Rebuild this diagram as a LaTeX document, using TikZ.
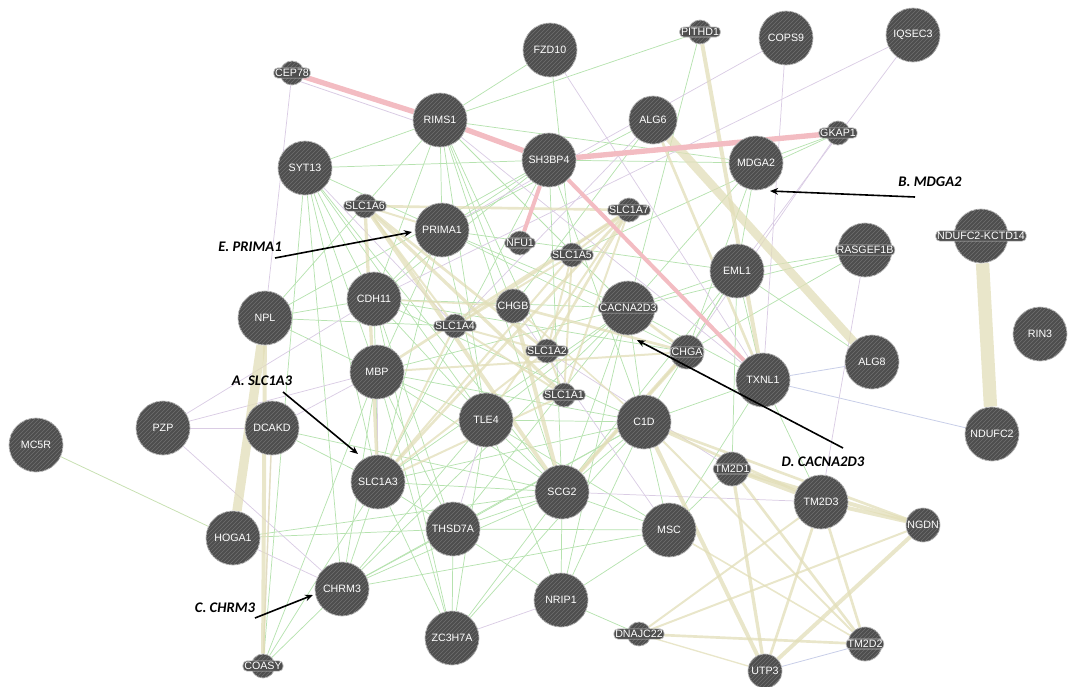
\documentclass[tikz,border=0pt]{standalone}
\usepackage{fontspec}
\setmainfont{Liberation Sans}
\newfontfamily\annfont{Carlito}
\usetikzlibrary{patterns,arrows.meta}
\pgfdeclarelayer{bg}
\pgfsetlayers{bg,main}
\definecolor{grn}{RGB}{182,226,175}
\definecolor{pur}{RGB}{218,204,228}
\definecolor{kha}{RGB}{226,222,184}
\definecolor{pnk}{RGB}{243,188,194}
\definecolor{blu}{RGB}{200,206,232}
\definecolor{nodegray}{RGB}{78,78,78}
\definecolor{stripe}{RGB}{112,112,112}
\definecolor{rim}{RGB}{190,190,190}
\tikzset{
  gene/.style={circle, fill=nodegray, draw=rim, line width=0.6pt, inner sep=0pt,
    text=white, font=\fontsize{8}{9}\selectfont,
    postaction={pattern=north east lines, pattern color=stripe}},
  big/.style={gene, minimum size=40.5pt},
  mid/.style={gene, minimum size=25.5pt},
  sml/.style={gene, minimum size=18pt},
  halo/.style={fill=nodegray, draw=rim, line width=0.5pt, rounded corners=3pt,
    inner sep=1pt, text=white, font=\fontsize{8}{9}\selectfont},
  gr/.style={draw=grn, line width=0.55pt},
  pu/.style={draw=pur, line width=0.55pt},
  bl/.style={draw=blu, line width=0.6pt},
  kh/.style={draw=kha, line width=#1, opacity=0.75},
  kh/.default=1.5pt,
  pk/.style={draw=pnk, line width=#1},
  pk/.default=3pt,
  ann/.style={font=\annfont\bfseries\itshape\fontsize{11}{13}\selectfont, text=black},
  pointer/.style={-{Stealth[length=6pt,width=5pt]}, line width=1.2pt, black}
}
\begin{document}
\begin{tikzpicture}[x=0.75pt,y=-0.75pt]
\path[use as bounding box] (0,0) rectangle (1071,686);
% nodes
\node[sml, label={[halo]center:CEP78}] (cep78) at (292,73) {};
\node[big] (fzd10) at (550,50) {FZD10};
\node[sml, label={[halo]center:PITHD1}] (pithd1) at (700,32) {};
\node[big] (cops9) at (786,38) {COPS9};
\node[big] (iqsec3) at (913,35) {IQSEC3};
\node[big] (rims1) at (440,120) {RIMS1};
\node[big, minimum size=36pt] (alg6) at (653,120) {ALG6};
\node[sml, label={[halo]center:GKAP1}] (gkap1) at (838,133) {};
\node[big] (sh3bp4) at (549,160) {SH3BP4};
\node[big] (mdga2) at (756,163) {MDGA2};
\node[big] (syt13) at (305,168) {SYT13};
\node[sml, label={[halo]center:SLC1A6}] (slc1a6) at (365,206) {};
\node[big] (prima1) at (442,230) {PRIMA1};
\node[sml, label={[halo]center:NFU1}] (nfu1) at (520,243) {};
\node[sml, label={[halo]center:SLC1A7}] (slc1a7) at (629,210) {};
\node[sml, label={[halo]center:SLC1A5}] (slc1a5) at (572,255) {};
\node[big] (eml1) at (737,271) {EML1};
\node[big, label={[halo]center:RASGEF1B}] (rasgef1b) at (865,250) {};
\node[big, label={[halo]center:NDUFC2-KCTD14}] (ndufkc) at (981,236) {};
\node[big] (cdh11) at (374,299) {CDH11};
\node[big] (npl) at (265,318) {NPL};
\node[mid] (chgb) at (513,306) {CHGB};
\node[sml, label={[halo]center:SLC1A4}] (slc1a4) at (455,326) {};
\node[big, label={[halo]center:CACNA2D3}] (cacna2d3) at (628,308) {};
\node[sml, label={[halo]center:SLC1A2}] (slc1a2) at (547,351) {};
\node[mid, label={[halo]center:CHGA}] (chga) at (687,352) {};
\node[big] (txnl1) at (763,380) {TXNL1};
\node[big] (alg8) at (872,362) {ALG8};
\node[big] (rin3) at (1040,334) {RIN3};
\node[big] (mbp) at (377,372) {MBP};
\node[sml, label={[halo]center:SLC1A1}] (slc1a1) at (564,395) {};
\node[big] (pzp) at (163,428) {PZP};
\node[big] (dcakd) at (272,428) {DCAKD};
\node[big] (mc5r) at (36,445) {MC5R};
\node[big] (tle4) at (486,420) {TLE4};
\node[big] (c1d) at (644,422) {C1D};
\node[big] (slc1a3) at (378,482) {SLC1A3};
\node[big] (ndufc2) at (992,434) {NDUFC2};
\node[mid, label={[halo]center:TM2D1}] (tm2d1) at (732,469) {};
\node[big] (scg2) at (562,492) {SCG2};
\node[big] (tm2d3) at (821,502) {TM2D3};
\node[mid] (ngdn) at (923,525) {NGDN};
\node[big] (hoga1) at (233,538) {HOGA1};
\node[big] (thsd7a) at (453,529) {THSD7A};
\node[big] (msc) at (669,530) {MSC};
\node[big] (chrm3) at (342,589) {CHRM3};
\node[big] (nrip1) at (561,600) {NRIP1};
\node[big] (zc3h7a) at (452,638) {ZC3H7A};
\node[sml, label={[halo]center:DNAJC22}] (dnajc22) at (639,634) {};
\node[mid, label={[halo]center:TM2D2}] (tm2d2) at (865,644) {};
\node[mid] (utp3) at (765,671) {UTP3};
\node[sml, label={[halo]center:COASY}] (coasy) at (263,666) {};
% edges
\begin{pgfonlayer}{bg}
\foreach \a/\b in {syt13/rims1, syt13/sh3bp4, syt13/prima1, syt13/cdh11, syt13/slc1a3, syt13/chrm3, syt13/scg2, syt13/tle4, syt13/mbp,
  rims1/prima1, rims1/cdh11, rims1/chgb, rims1/slc1a2, rims1/cacna2d3, rims1/tle4, rims1/mdga2, rims1/scg2, pithd1/rims1, fzd10/rims1,
  sh3bp4/prima1, sh3bp4/cdh11, sh3bp4/slc1a3, sh3bp4/scg2, sh3bp4/c1d, sh3bp4/mdga2,
  prima1/cdh11, prima1/mbp, prima1/cacna2d3, prima1/eml1, prima1/chga, prima1/tle4, prima1/slc1a3,
  cdh11/cacna2d3, cdh11/chga, cdh11/tle4, cdh11/slc1a3, cdh11/thsd7a, cdh11/npl, cdh11/c1d,
  npl/mbp, npl/rims1, npl/sh3bp4, npl/slc1a4,
  mbp/cacna2d3, mbp/tle4, mbp/scg2, mbp/thsd7a, mbp/chrm3, mbp/c1d,
  slc1a3/thsd7a, slc1a3/scg2, slc1a3/c1d, slc1a3/chrm3, slc1a3/zc3h7a, slc1a3/cacna2d3,
  chrm3/tle4, chrm3/scg2, chrm3/thsd7a, chrm3/c1d, chrm3/cacna2d3, chrm3/coasy, chrm3/msc,
  thsd7a/zc3h7a, thsd7a/scg2, thsd7a/c1d, thsd7a/nrip1, thsd7a/msc, thsd7a/cacna2d3,
  zc3h7a/tle4, zc3h7a/scg2, zc3h7a/mbp, zc3h7a/cdh11, zc3h7a/c1d,
  tle4/scg2, tle4/c1d, tle4/cacna2d3, tle4/msc, tle4/nrip1,
  scg2/c1d, scg2/msc, scg2/nrip1, scg2/cacna2d3, scg2/eml1,
  nrip1/msc, nrip1/dnajc22, nrip1/c1d, nrip1/cacna2d3,
  c1d/cacna2d3, c1d/eml1, c1d/txnl1, c1d/msc, msc/tm2d1, msc/txnl1,
  cacna2d3/eml1, cacna2d3/txnl1, cacna2d3/rasgef1b, cacna2d3/mdga2,
  eml1/txnl1, eml1/rasgef1b, eml1/chga, eml1/alg8, mdga2/eml1, mdga2/chga,
  pithd1/cacna2d3, fzd10/slc1a5, gkap1/slc1a5, gkap1/mdga2, alg6/prima1, alg6/chgb,
  dcakd/slc1a3, dcakd/scg2, hoga1/scg2, hoga1/thsd7a, coasy/slc1a3, coasy/mbp, syt13/coasy,
  rasgef1b/chga, txnl1/tm2d3, tm2d1/eml1}
  \draw[gr] (\a) -- (\b);
\foreach \a/\b in {cep78/npl, cep78/rims1, fzd10/txnl1, cops9/prima1, cops9/txnl1, iqsec3/eml1, iqsec3/cdh11, gkap1/chga,
  pzp/dcakd, pzp/mbp, pzp/chrm3, pzp/cdh11, dcakd/coasy, dcakd/mbp, hoga1/chrm3, nrip1/zc3h7a,
  rasgef1b/tm2d3, scg2/tm2d3, alg6/slc1a4, syt13/slc1a4, mbp/slc1a3, rims1/txnl1, chgb/msc, slc1a2/tm2d1, tle4/thsd7a}
  \draw[pu] (\a) -- (\b);
\foreach \a/\b in {txnl1/ndufc2, tm2d2/utp3, alg8/txnl1}
  \draw[bl] (\a) -- (\b);
\draw[draw=grn!60!kha, line width=0.6pt] (mc5r) -- (hoga1);
% co-expression (khaki)
\draw[kh=7pt] (npl) -- (hoga1);
\draw[kh=3pt] (npl) -- (coasy);
\draw[kh=1.2pt] (dcakd) -- (coasy);
\draw[kh=10pt] (ndufkc) -- (ndufc2);
\draw[kh=6.5pt] (alg6) -- (alg8);
\draw[kh=3pt] (pithd1) -- (txnl1);
\draw[kh=2pt] (alg6) -- (txnl1);
\foreach \a/\b/\w in {slc1a6/slc1a7/2pt, slc1a6/slc1a3/2.5pt, slc1a6/slc1a2/2pt, slc1a6/slc1a1/2.5pt, slc1a6/scg2/3pt, slc1a6/slc1a4/1.5pt, slc1a6/prima1/1.5pt,
  slc1a7/slc1a3/2pt, slc1a7/slc1a2/2pt, slc1a7/slc1a1/1.5pt, slc1a7/slc1a4/1.5pt, slc1a7/slc1a5/1.5pt, slc1a7/mbp/2pt, slc1a7/tle4/1.5pt,
  slc1a5/slc1a4/1.5pt, slc1a5/slc1a2/1.5pt, slc1a5/slc1a3/1.5pt, slc1a5/slc1a1/1.5pt,
  slc1a4/slc1a2/1.5pt, slc1a4/slc1a1/1.5pt, slc1a4/slc1a3/1.5pt, slc1a2/slc1a1/1.5pt, slc1a2/slc1a3/1.5pt, slc1a1/slc1a3/1.5pt,
  chgb/scg2/3pt, chga/scg2/3pt, chgb/chga/2pt, chga/mbp/1.5pt, cacna2d3/chga/2pt, chgb/c1d/1.2pt, cdh11/chgb/1.2pt,
  c1d/utp3/3pt, c1d/tm2d3/2pt, c1d/tm2d2/1.5pt, c1d/ngdn/2pt,
  tm2d1/tm2d3/3pt, tm2d1/ngdn/3pt, tm2d1/tm2d2/2pt, tm2d1/utp3/2.5pt,
  tm2d3/ngdn/3pt, tm2d3/tm2d2/2pt, tm2d3/utp3/2pt, ngdn/utp3/3pt,
  tm2d2/dnajc22/2pt, utp3/dnajc22/1pt, dnajc22/tm2d3/1.5pt, dnajc22/ngdn/1.5pt, msc/tm2d2/1.2pt, scg2/chga/1.5pt}
  \draw[kh=\w] (\a) -- (\b);
% pink
\draw[pk=4pt] (cep78) -- (rims1);
\draw[pk=4pt] (rims1) -- (sh3bp4);
\draw[pk=4pt] (sh3bp4) -- (gkap1);
\draw[pk=3pt] (sh3bp4) -- (nfu1);
\draw[pk=3pt] (sh3bp4) -- (txnl1);
\draw[draw=pur, line width=0.6pt] (cep78.south east) -- (rims1.west);
\end{pgfonlayer}
% annotations
\node[ann] (labA) at (262,381) {A. SLC1A3};
\node[ann] (labB) at (930,182) {B. MDGA2};
\node[ann] (labC) at (225,608) {C. CHRM3};
\node[ann] (labD) at (823,462) {D. CACNA2D3};
\node[ann] (labE) at (250,247) {E. PRIMA1};
\coordinate (tailA) at (283,392); \coordinate (headA) at (358,454);
\coordinate (tailB) at (915,197); \coordinate (headB) at (770,191);
\coordinate (tailC) at (255,618); \coordinate (headC) at (313,595);
\coordinate (tailD) at (843,448); \coordinate (headD) at (637,340);
\coordinate (tailE) at (275,258); \coordinate (headE) at (412,232);
\draw[pointer] (tailA) -- (headA);
\draw[pointer] (tailB) -- (headB);
\draw[pointer] (tailC) -- (headC);
\draw[pointer] (tailD) -- (headD);
\draw[pointer] (tailE) -- (headE);
\end{tikzpicture}
\end{document}
